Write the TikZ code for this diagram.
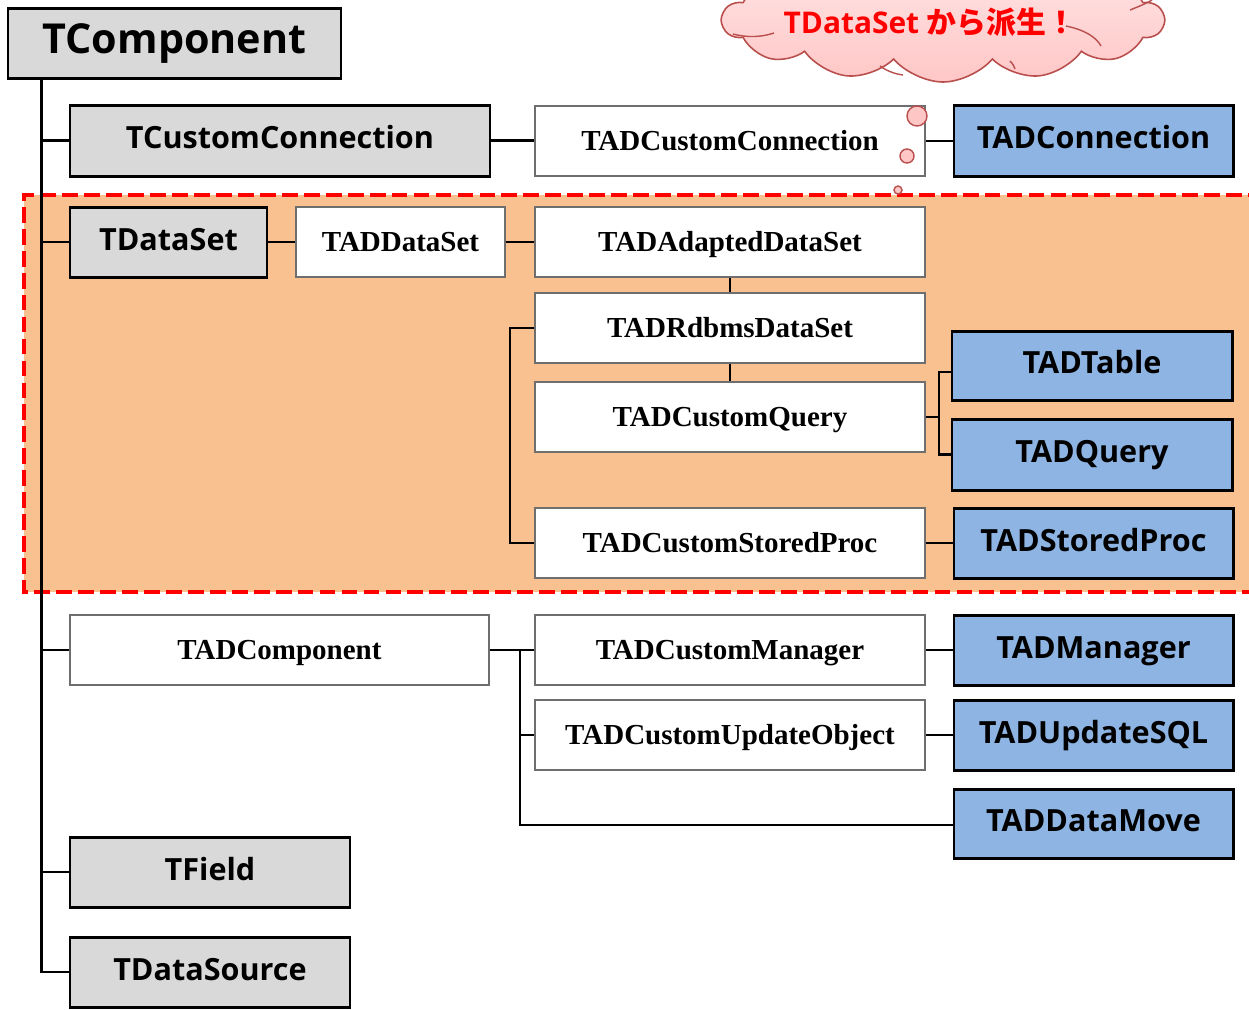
\documentclass[tikz,border=0pt]{standalone}
\usepackage{fontspec}
\setmainfont{Liberation Serif}
\newfontfamily\uisans{Open Sans}
\newfontfamily\jpsans{Noto Sans CJK JP}
\usetikzlibrary{shapes.symbols,calc}
\definecolor{basegray}{HTML}{D9D9D9}
\definecolor{leafblue}{HTML}{8DB4E2}
\definecolor{zonepeach}{HTML}{F9C090}
\definecolor{frameedge}{HTML}{6E6E6E}
\definecolor{cloudedge}{HTML}{B94F4D}
\definecolor{cloudtop}{HTML}{FFE6E6}
\definecolor{cloudbot}{HTML}{FFC6C6}
\begin{document}
\begin{tikzpicture}[x=0.02cm,y=-0.02cm,
  wh/.style 2 args={minimum width=#1*0.02cm, minimum height=#2*0.02cm},
  vclbox/.style={draw=black, line width=1.7pt, inner sep=0pt,
    text height=12.4pt, text depth=2.8pt,
    font=\uisans\bfseries\fontsize{17.4pt}{20pt}\selectfont},
  basebox/.style={vclbox, fill=basegray},
  leafbox/.style={vclbox, fill=leafblue},
  midbox/.style={draw=frameedge, line width=1.1pt, fill=white, inner sep=0pt,
    text height=10.9pt, text depth=0pt,
    font=\bfseries\fontsize{16.5pt}{19pt}\selectfont},
  link/.style={line width=1.6pt, black},
  puff/.style={circle, draw=cloudedge, line width=0.8pt, fill=cloudbot, inner sep=0pt},
  cloudline/.style={draw=cloudedge, line width=0.8pt},
]
\useasboundingbox (0,0) rectangle (1249,1009);

% highlighted TDataSet family
\fill[zonepeach] (24,195) rectangle (1264,592);
\draw[red, line width=2.3pt, dash pattern=on 9pt off 3.5pt]
  (1264,195) -- (24,195) -- (24,592) -- (1264,592);

% callout cloud
\node[cloud, cloud puffs=14, cloud puff arc=100, aspect=3.5, wh={441}{124},
      draw=cloudedge, line width=0.9pt,
      top color=cloudtop, bottom color=cloudbot] (bubble) at (943,20) {};
% inner fold lines of the cloud
\draw[cloudline] (733,34) .. controls (748,38) and (762,37) .. (774,33);
\draw[cloudline] (1066,26) .. controls (1085,30) and (1096,37) .. (1101,46);
\draw[cloudline] (880,66) .. controls (887,71) and (895,74) .. (903,75);
\draw[cloudline] (1010,61) .. controls (1013,64) and (1014,66) .. (1015,69);
\draw[cloudline] (1130,10) .. controls (1140,6) and (1147,3) .. (1152,0);
\node[text=red, inner sep=0pt] (bubbletext) at (930,22)
  {\uisans\bfseries\fontsize{17pt}{20pt}\selectfont TDataSet {\jpsans\bfseries から派生！}};

% classes
\node[basebox, wh={333}{70}, text height=16.8pt, text depth=4.6pt,
      font=\uisans\bfseries\fontsize{23.5pt}{26pt}\selectfont]
  (tcomp) at (174.5,43) {TComponent};
\node[basebox, wh={420}{71}] (tcc) at (280,140.5) {TCustomConnection};
\node[midbox, wh={390}{70}] (tadcc) at (730,141) {TADCustomConnection};
\node[leafbox, wh={279}{71}] (tadconn) at (1093.5,140.5) {TADConnection};

\node[basebox, wh={197}{70}] (tds) at (168.5,242) {TDataSet};
\node[midbox, wh={209}{70}] (tadds) at (400.5,242) {TADDataSet};
\node[midbox, wh={390}{70}] (tadads) at (730,242) {TADAdaptedDataSet};
\node[midbox, wh={390}{70}] (tadrds) at (730,328) {TADRdbmsDataSet};
\node[midbox, wh={390}{70}] (tadcq) at (730,417) {TADCustomQuery};
\node[midbox, wh={390}{70}] (tadcsp) at (730,543) {TADCustomStoredProc};
\node[leafbox, wh={280}{69}] (tadtable) at (1092,365.5) {TADTable};
\node[leafbox, wh={280}{71}] (tadquery) at (1092,454.5) {TADQuery};
\node[leafbox, wh={279}{70}] (tadsp) at (1093.5,543) {TADStoredProc};

\node[midbox, wh={419}{70}] (tadcomp) at (279.5,650) {TADComponent};
\node[midbox, wh={390}{70}] (tadcm) at (730,650) {TADCustomManager};
\node[midbox, wh={390}{70}] (tadcuo) at (730,735) {TADCustomUpdateObject};
\node[leafbox, wh={279}{70}] (tadmgr) at (1093.5,650) {TADManager};
\node[leafbox, wh={279}{70}] (tadusql) at (1093.5,735) {TADUpdateSQL};
\node[leafbox, wh={279}{69}] (taddm) at (1093.5,823.5) {TADDataMove};

\node[basebox, wh={280}{70}] (tfield) at (210,872) {TField};
\node[basebox, wh={280}{70}] (tdsrc) at (210,972) {TDataSource};

% thought bubbles leading from the cloud
\node[puff, minimum size=20*0.02cm] (puffa) at (917,116) {};
\node[puff, minimum size=14*0.02cm] (puffb) at (907,156) {};
\node[puff, minimum size=8*0.02cm]  (puffc) at (898,190) {};

% inheritance links
\coordinate (trunk) at ($(tcomp.south west)+(35,0)$);
\draw[link] (trunk) |- (tdsrc.west);
\foreach \kid in {tcc,tds,tadcomp,tfield}
  \draw[link] (trunk |- \kid.west) -- (\kid.west);

\draw[link] (tcc.east) -- (tcc.east -| tadcc.west);
\draw[link] (tadcc.east) -- (tadcc.east -| tadconn.west);

\draw[link] (tds.east) -- (tadds.west);
\draw[link] (tadds.east) -- (tadads.west);
\draw[link] (tadads.south) -- (tadrds.north);
\draw[link] (tadrds.south) -- (tadcq.north);
\draw[link] (tadrds.west) -- ++(-24,0) |- (tadcsp.west);
\draw[link] (tadcq.east) -- ++(13,0) coordinate (qjoin);
\draw[link] ($(tadtable.west)+(0,6.5)$) -| (qjoin) |- (tadquery.west);
\draw[link] (tadcsp.east) -- (tadsp.west);

\draw[link] (tadcomp.east) -- (tadcm.west);
\coordinate (mjoin) at ($(tadcomp.east)+(30,0)$);
\draw[link] (mjoin) |- ($(taddm.west)+(0,1.5)$);
\draw[link] (mjoin |- tadcuo.west) -- (tadcuo.west);
\draw[link] (tadcm.east) -- (tadmgr.west);
\draw[link] (tadcuo.east) -- (tadusql.west);
\end{tikzpicture}
\end{document}
